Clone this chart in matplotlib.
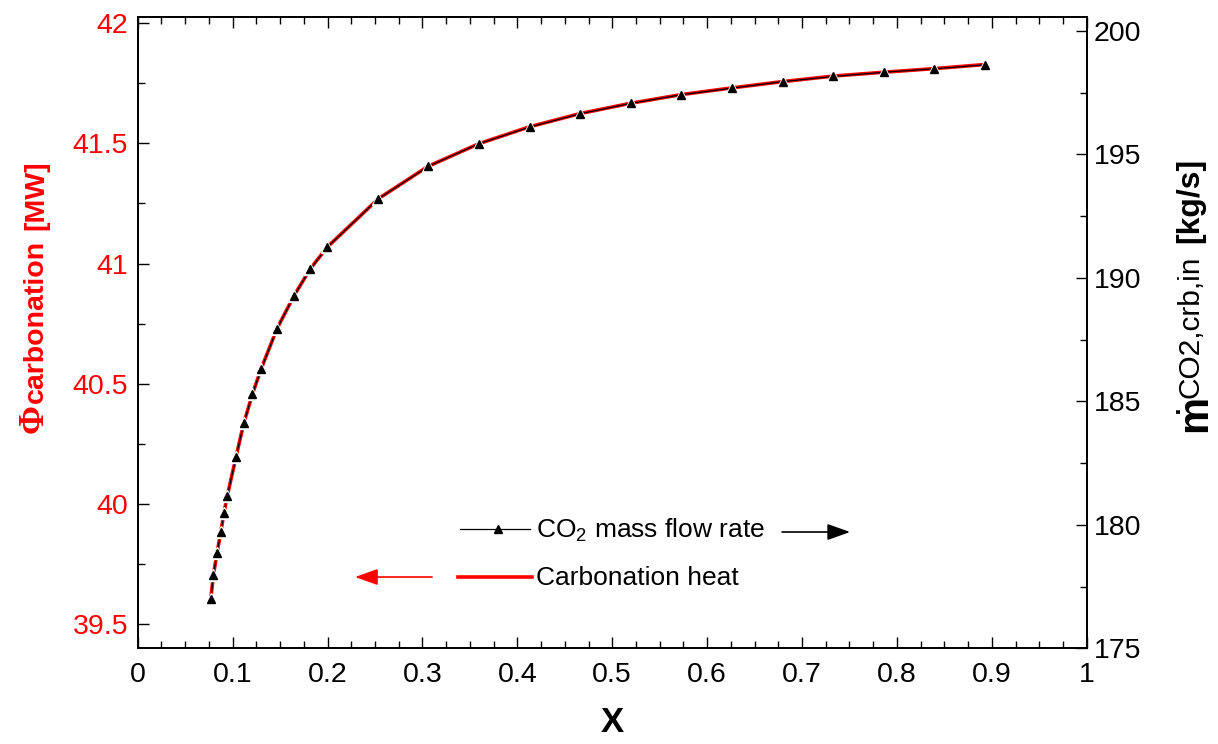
import matplotlib
matplotlib.use('Agg')
import matplotlib.pyplot as plt
from matplotlib.ticker import MultipleLocator, FuncFormatter

plt.rcParams['font.family'] = ['Liberation Sans', 'DejaVu Sans']
plt.rcParams['mathtext.fontset'] = 'custom'
plt.rcParams['mathtext.rm'] = 'Liberation Sans'
plt.rcParams['mathtext.it'] = 'Liberation Sans:italic'
plt.rcParams['mathtext.bf'] = 'Liberation Sans:bold'

# data
x_frac = [0.0769, 0.0797, 0.0836, 0.0875, 0.0909, 0.0944, 0.1036, 0.1117, 0.1208,
          0.1299, 0.1468, 0.1647, 0.1819, 0.1998, 0.2536, 0.3062, 0.3597, 0.4129,
          0.4661, 0.5196, 0.5729, 0.6266, 0.6797, 0.7331, 0.7865, 0.8395, 0.8929]
heat_mw = [39.604, 39.704, 39.798, 39.883, 39.964, 40.035, 40.197, 40.336, 40.457,
           40.561, 40.730, 40.867, 40.979, 41.069, 41.270, 41.405, 41.499, 41.569,
           41.624, 41.667, 41.703, 41.731, 41.757, 41.780, 41.796, 41.811, 41.828]
co2_flow = [176.98, 177.95, 178.87, 179.69, 180.49, 181.17, 182.75, 184.11, 185.28,
            186.29, 187.94, 189.27, 190.36, 191.24, 193.20, 194.51, 195.43, 196.10,
            196.64, 197.06, 197.41, 197.68, 197.94, 198.15, 198.32, 198.46, 198.62]

W, H = 1218, 744
fig = plt.figure(figsize=(W / 100, H / 100), dpi=100)
ax = fig.add_axes([0.1131, 0.1286, 0.7791, 0.8490])
ax2 = ax.twinx()

# red heat curve on the left axis, black flow curve with triangles on the right
ax.plot(x_frac, heat_mw, color='red', lw=2.6, zorder=2)
ax2.plot(x_frac, co2_flow, color='black', lw=0.9, zorder=3)
ax2.plot(x_frac, co2_flow, ls='none', marker='^', ms=8.5, color='white', zorder=4)
ax2.plot(x_frac, co2_flow, ls='none', marker='^', ms=6, color='black', zorder=5)

ax.set_xlim(0, 1)
ax.set_ylim(39.40, 42.027)
ax2.set_ylim(175, 200.57)

fmt = FuncFormatter(lambda v, p: '%g' % round(v, 3))
ax.xaxis.set_major_locator(MultipleLocator(0.1))
ax.xaxis.set_minor_locator(MultipleLocator(0.025))
ax.yaxis.set_major_locator(MultipleLocator(0.5))
ax.yaxis.set_minor_locator(MultipleLocator(0.25))
ax2.yaxis.set_major_locator(MultipleLocator(5))
ax2.yaxis.set_minor_locator(MultipleLocator(2.5))
ax.xaxis.set_major_formatter(fmt)
ax.yaxis.set_major_formatter(fmt)
ax2.yaxis.set_major_formatter(fmt)

ax.tick_params(axis='x', which='both', direction='in', top=True, labelsize=20.5, pad=10, width=1)
ax.tick_params(axis='y', which='both', direction='in', right=False, labelsize=20.5,
               labelcolor='red', pad=7, width=1)
ax2.tick_params(axis='y', which='both', direction='in', labelsize=20.5, pad=5, width=1)
for a in (ax, ax2):
    a.tick_params(which='major', length=8)
    a.tick_params(which='minor', length=5)
    for s in a.spines.values():
        s.set_linewidth(1.3)


def af(px, py):
    # image pixel -> axes fraction
    return (px - 137.7) / 948.9, (648.3 - py) / 631.6


# hand-made legend with arrows
ax.plot(*zip(af(460, 529), af(530, 529)), transform=ax.transAxes, color='black', lw=0.9, clip_on=False)
ax.plot(*af(498, 529), transform=ax.transAxes, marker='^', ms=6, color='black', clip_on=False)
ax.plot(*zip(af(458, 577), af(532, 577)), transform=ax.transAxes, color='red', lw=2.6, clip_on=False)
ax.text(*af(536, 538), 'CO$_2$ mass flow rate', transform=ax.transAxes, fontsize=19, va='baseline')
ax.text(*af(536, 585), 'Carbonation heat', transform=ax.transAxes, fontsize=19, va='baseline')
ax.annotate('', xy=af(850, 532), xytext=af(782, 532), xycoords='axes fraction',
            arrowprops=dict(arrowstyle='-|>,head_length=0.7,head_width=0.25', color='black',
                            lw=1.2, mutation_scale=20, shrinkA=0, shrinkB=0))
ax.annotate('', xy=af(355, 577), xytext=af(432, 577), xycoords='axes fraction',
            arrowprops=dict(arrowstyle='-|>,head_length=0.7,head_width=0.25', color='red',
                            lw=1.2, mutation_scale=20, shrinkA=0, shrinkB=0))

fig.text(612 / W, 1 - 722 / H, 'X', ha='center', va='center', fontsize=25, fontweight='bold')

renderer = fig.canvas.get_renderer()


def chain_vertical(pieces, y_start):
    # stack rotated text pieces bottom to top
    y = y_start
    for s, xb, gap, kw in pieces:
        t = fig.text(xb / W, 1 - y / H, s, rotation=90, rotation_mode='anchor',
                     ha='left', va='baseline', **kw)
        bb = t.get_window_extent(renderer)
        y = (H - bb.y1) - gap


chain_vertical([
    ('\u03a6', 43, 1, dict(family='Liberation Serif', fontweight='bold', fontsize=25, color='red')),
    ('carbonation', 43, 10, dict(fontweight='bold', fontsize=20.5, color='red')),
    ('[MW]', 43, 0, dict(fontweight='bold', fontsize=20.5, color='red')),
], 433)

chain_vertical([
    (r'$\dot{\mathbf{m}}$', 1210, 1, dict(fontsize=30)),
    ('CO2,crb,in', 1198, 12, dict(fontsize=21.5)),
    ('[kg/s]', 1198, 0, dict(fontweight='bold', fontsize=23)),
], 435)

fig.savefig('out.png', dpi=100)
